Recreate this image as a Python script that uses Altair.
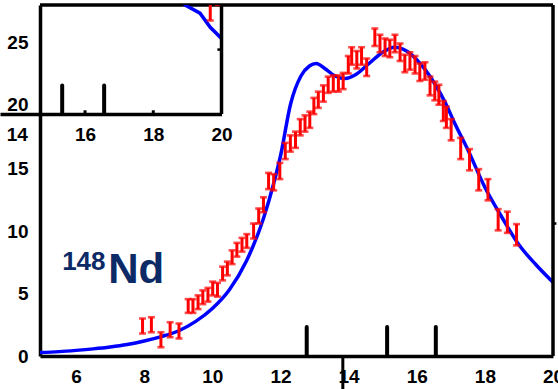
import altair as alt
import pandas as pd

# ---------------- main panel data ----------------
curve_x = [4.94, 5.5, 6.0, 6.5, 7.0, 7.5, 8.0, 8.5, 9.0, 9.5, 10.0, 10.5, 11.0, 11.5, 11.8,
           12.0, 12.3, 12.6, 12.85, 13.05, 13.3, 13.6, 13.9, 14.2, 14.6, 15.0, 15.35, 15.7,
           16.0, 16.5, 16.85, 17.1, 17.5, 18.0, 18.5, 19.0, 19.5, 20.0]
curve_y = [0.28, 0.35, 0.45, 0.57, 0.72, 0.92, 1.2, 1.55, 2.0, 2.75, 3.8, 5.3, 7.6, 11.0, 13.8,
           16.0, 20.2, 22.4, 23.2, 23.4, 23.0, 22.4, 22.2, 22.5, 23.4, 24.3, 24.7, 24.4,
           23.7, 21.9, 20.2, 18.7, 16.5, 13.5, 11.1, 8.9, 7.3, 5.9]

pts_x = [7.95, 8.21, 8.49, 8.76, 9.02, 9.29, 9.43, 9.58, 9.72, 9.87, 10.01, 10.15, 10.30,
         10.44, 10.58, 10.72, 10.87, 11.01, 11.21, 11.36, 11.50, 11.65, 11.80, 11.98, 12.14,
         12.29, 12.44, 12.58, 12.72, 12.86, 12.98, 13.11, 13.26, 13.40, 13.55, 13.70, 13.84,
         13.99, 14.09, 14.24, 14.38, 14.53, 14.77, 14.92, 15.07, 15.21, 15.36, 15.51, 15.65,
         15.80, 15.95, 16.09, 16.24, 16.39, 16.53, 16.65, 16.78, 16.87, 17.01, 17.29, 17.55,
         17.82, 18.09, 18.39, 18.66, 18.93]
pts_y = [2.4, 2.5, 1.3, 2.1, 2.0, 4.0, 4.0, 4.3, 4.7, 4.9, 5.4, 5.3, 6.6,
         7.0, 7.9, 8.5, 8.9, 9.2, 10.0, 11.2, 12.1, 14.0, 13.9, 14.8, 16.4,
         17.0, 17.3, 18.3, 18.6, 18.9, 20.0, 20.5, 21.0, 21.7, 21.8, 21.8, 22.0,
         23.3, 24.0, 23.7, 24.0, 23.1, 25.5, 25.0, 24.7, 24.6, 25.0, 24.3, 23.4,
         23.6, 23.3, 22.7, 22.8, 21.6, 21.2, 20.9, 19.6, 19.1, 18.1, 16.6, 15.7,
         14.1, 13.3, 10.9, 10.7, 9.7]
pts_err = [0.6, 0.6, 0.6, 0.6, 0.6, 0.55, 0.55, 0.55, 0.55, 0.55, 0.55, 0.55, 0.55,
           0.55, 0.55, 0.55, 0.55, 0.55, 0.6, 0.6, 0.6, 0.65, 0.65, 0.65, 0.65,
           0.65, 0.65, 0.65, 0.65, 0.65, 0.65, 0.65, 0.65, 0.65, 0.65, 0.65, 0.65,
           0.7, 0.7, 0.7, 0.7, 0.7, 0.7, 0.7, 0.7, 0.7, 0.7, 0.7, 0.7,
           0.7, 0.7, 0.7, 0.7, 0.75, 0.75, 0.8, 0.8, 0.85, 0.85, 0.85, 0.85,
           0.85, 0.85, 0.85, 0.85, 0.85]

marker_x = [12.77, 15.13, 16.56]
marker_top = [2.32, 2.32, 2.32]

stray_x = [13.83]          # long tick below the axis near 14
stray_y = [0.0]
stray_y2 = [-3.0]

right_tick_y = [10.6]      # small outward tick on the right frame

label_small = ["148"]
label_big = ["Nd"]

main_x_ticks = [6, 8, 10, 12, 14, 16, 18, 20]
main_y_ticks = [0, 5, 10, 15]
main_x_range = [4.94, 20.0]
main_y_range = [0, 28.08]

# ---------------- inset data ----------------
inset_curve_x = [18.85, 18.93, 19.37, 19.67, 20.0]
inset_curve_y = [28.4, 28.0, 27.34, 26.2, 25.3]
inset_pts_x = [19.67, 19.91]
inset_pts_y = [27.85, 28.9]
inset_pts_err = [1.1, 0.9]
inset_marker_x = [15.33, 16.56]
inset_marker_top = [21.5, 21.5]
inset_minor_x = [16, 18]
inset_right_tick_y = [24.4]
inset_x_ticks = [14, 16, 18, 20]
inset_y_ticks = [20, 25]
inset_x_range = [13.507, 20.0]
inset_y_range = [19.2, 28.0]

RED = "#FF0000"
BLUE = "#0000FF"
NAVY = "#0B2A66"
FONT = "Liberation Sans"

MX = alt.Scale(domain=main_x_range, nice=False, zero=False)
MY = alt.Scale(domain=main_y_range, nice=False, zero=False)
IX = alt.Scale(domain=inset_x_range, range=[-40, 181.5], nice=False, zero=False)
IY = alt.Scale(domain=inset_y_range, range=[109, 0], nice=False, zero=False)

lab = dict(labelFont=FONT, labelFontWeight="bold", labelFontSize=19, labelColor="black",
           labelFlush=False, labelOverlap=False, labelBound=False, ticks=False, grid=False,
           title=None)

AX_MX = alt.Axis(values=main_x_ticks, orient="bottom", domain=True, domainColor="black",
                 domainWidth=3.5, labelPadding=11, **lab)
AX_MY = alt.Axis(values=main_y_ticks, orient="left", domain=True, domainColor="black",
                 domainWidth=3.5, labelPadding=12, **lab)
AX_IX = alt.Axis(values=inset_x_ticks, orient="bottom", offset=-242, domain=True,
                 domainColor="black", domainWidth=3.5, labelPadding=11, **lab)
AX_IY = alt.Axis(values=inset_y_ticks, orient="left", domain=False, labelPadding=12, **lab)

curve_df = pd.DataFrame({"x": curve_x, "y": curve_y})
pts_df = pd.DataFrame({"x": pts_x, "y": pts_y, "e": pts_err})
pts_df["lo"] = pts_df["y"] - pts_df["e"]
pts_df["hi"] = pts_df["y"] + pts_df["e"]
cap_df = pd.concat([pts_df[["x", "lo"]].rename(columns={"lo": "c"}),
                    pts_df[["x", "hi"]].rename(columns={"hi": "c"})])
marker_df = pd.DataFrame({"x": marker_x, "top": marker_top, "bot": [0.0] * len(marker_x)})
stray_df = pd.DataFrame({"x": stray_x, "y": stray_y, "y2": stray_y2})
txt_df = pd.DataFrame({"x": [5.59], "y": [6.88], "t": label_small})
txt2_df = pd.DataFrame({"x": [6.94], "y": [5.84], "t": label_big})
frame_top_df = pd.DataFrame({"x": [main_x_range[0]], "x2": [main_x_range[1]], "y": [main_y_range[1]]})
frame_right_df = pd.DataFrame({"x": [main_x_range[1]], "y": [main_y_range[0]], "y2": [main_y_range[1]]})
rtick_df = pd.DataFrame({"x": [main_x_range[1]], "x2": [main_x_range[1] + 0.1], "y": right_tick_y})

mx = lambda f: alt.X(f, type="quantitative", scale=MX, axis=AX_MX)
my = lambda f: alt.Y(f, type="quantitative", scale=MY, axis=AX_MY)

main_curve = alt.Chart(curve_df).mark_line(color=BLUE, strokeWidth=3.5, interpolate="monotone").encode(
    x=mx("x"), y=my("y"))
main_bars = alt.Chart(pts_df).mark_rule(color=RED, strokeWidth=3).encode(
    x=mx("x"), y=my("lo"), y2="hi")
main_caps = alt.Chart(cap_df).mark_tick(color=RED, orient="horizontal", size=7, thickness=2.6).encode(
    x=mx("x"), y=my("c"))
main_markers = alt.Chart(marker_df).mark_rule(color="black", strokeWidth=4, strokeCap="round").encode(
    x=mx("x"), y=my("bot"), y2="top")
main_stray = alt.Chart(stray_df).mark_rule(color="black", strokeWidth=3).encode(
    x=mx("x"), y=my("y"), y2="y2")
frame_top = alt.Chart(frame_top_df).mark_rule(color="black", strokeWidth=3.5).encode(
    x=mx("x"), x2="x2", y=my("y"))
frame_right = alt.Chart(frame_right_df).mark_rule(color="black", strokeWidth=3.5).encode(
    x=mx("x"), y=my("y"), y2="y2")
rtick = alt.Chart(rtick_df).mark_rule(color="black", strokeWidth=2.5).encode(
    x=mx("x"), x2="x2", y=my("y"))
main_txt = alt.Chart(txt_df).mark_text(font=FONT, fontWeight="bold", fontSize=26, color=NAVY,
                                       align="left", baseline="alphabetic").encode(
    x=mx("x"), y=my("y"), text="t")
main_txt2 = alt.Chart(txt2_df).mark_text(font=FONT, fontWeight="bold", fontSize=42, color=NAVY,
                                         align="left", baseline="alphabetic").encode(
    x=mx("x"), y=my("y"), text="t")

main = alt.layer(main_curve, main_bars, main_caps, main_markers, main_stray, frame_top,
                 frame_right, rtick, main_txt, main_txt2)

# inset
icurve_df = pd.DataFrame({"x": inset_curve_x, "y": inset_curve_y})
ipts_df = pd.DataFrame({"x": inset_pts_x, "y": inset_pts_y, "e": inset_pts_err})
ipts_df["lo"] = ipts_df["y"] - ipts_df["e"]
ipts_df["hi"] = ipts_df["y"] + ipts_df["e"]
icap_df = pd.concat([ipts_df[["x", "lo"]].rename(columns={"lo": "c"}),
                     ipts_df[["x", "hi"]].rename(columns={"hi": "c"})])
imarker_df = pd.DataFrame({"x": inset_marker_x, "top": inset_marker_top,
                           "bot": [inset_y_range[0]] * len(inset_marker_x)})
iminor_df = pd.DataFrame({"x": inset_minor_x, "y": [inset_y_range[0]] * len(inset_minor_x),
                          "y2": [inset_y_range[0] + 0.3] * len(inset_minor_x)})
iframe_df = pd.DataFrame({"x": [inset_x_range[1]], "y": [inset_y_range[0]], "y2": [inset_y_range[1]]})
irtick_df = pd.DataFrame({"x": [inset_x_range[1] - 0.12], "x2": [inset_x_range[1]],
                          "y": inset_right_tick_y})

ix = lambda f: alt.X(f, type="quantitative", scale=IX, axis=AX_IX)
iy = lambda f: alt.Y(f, type="quantitative", scale=IY, axis=AX_IY)

in_curve = alt.Chart(icurve_df).mark_line(color=BLUE, strokeWidth=3.5, clip=True).encode(
    x=ix("x"), y=iy("y"))
in_bars = alt.Chart(ipts_df).mark_rule(color=RED, strokeWidth=3, clip=True).encode(
    x=ix("x"), y=iy("lo"), y2="hi")
in_caps = alt.Chart(icap_df).mark_tick(color=RED, orient="horizontal", size=7, thickness=2.6,
                                       clip=True).encode(x=ix("x"), y=iy("c"))
in_markers = alt.Chart(imarker_df).mark_rule(color="black", strokeWidth=4, strokeCap="round").encode(
    x=ix("x"), y=iy("bot"), y2="top")
in_minor = alt.Chart(iminor_df).mark_rule(color="black", strokeWidth=3).encode(
    x=ix("x"), y=iy("y"), y2="y2")
in_frame = alt.Chart(iframe_df).mark_rule(color="black", strokeWidth=3.5).encode(
    x=ix("x"), y=iy("y"), y2="y2")
in_rtick = alt.Chart(irtick_df).mark_rule(color="black", strokeWidth=2.5).encode(
    x=ix("x"), x2="x2", y=iy("y"))

inset = alt.layer(in_curve, in_bars, in_caps, in_markers, in_minor, in_frame, in_rtick)

chart = alt.layer(main, inset).resolve_scale(x="independent", y="independent").properties(
    width=513, height=351,
    padding={"left": 40, "top": 5, "right": 5, "bottom": 33},
    autosize=alt.AutoSizeParams(type="none"),
    background="white",
).configure_view(stroke=None)

chart.save("out.html", embed_options={"renderer": "svg", "actions": False})
